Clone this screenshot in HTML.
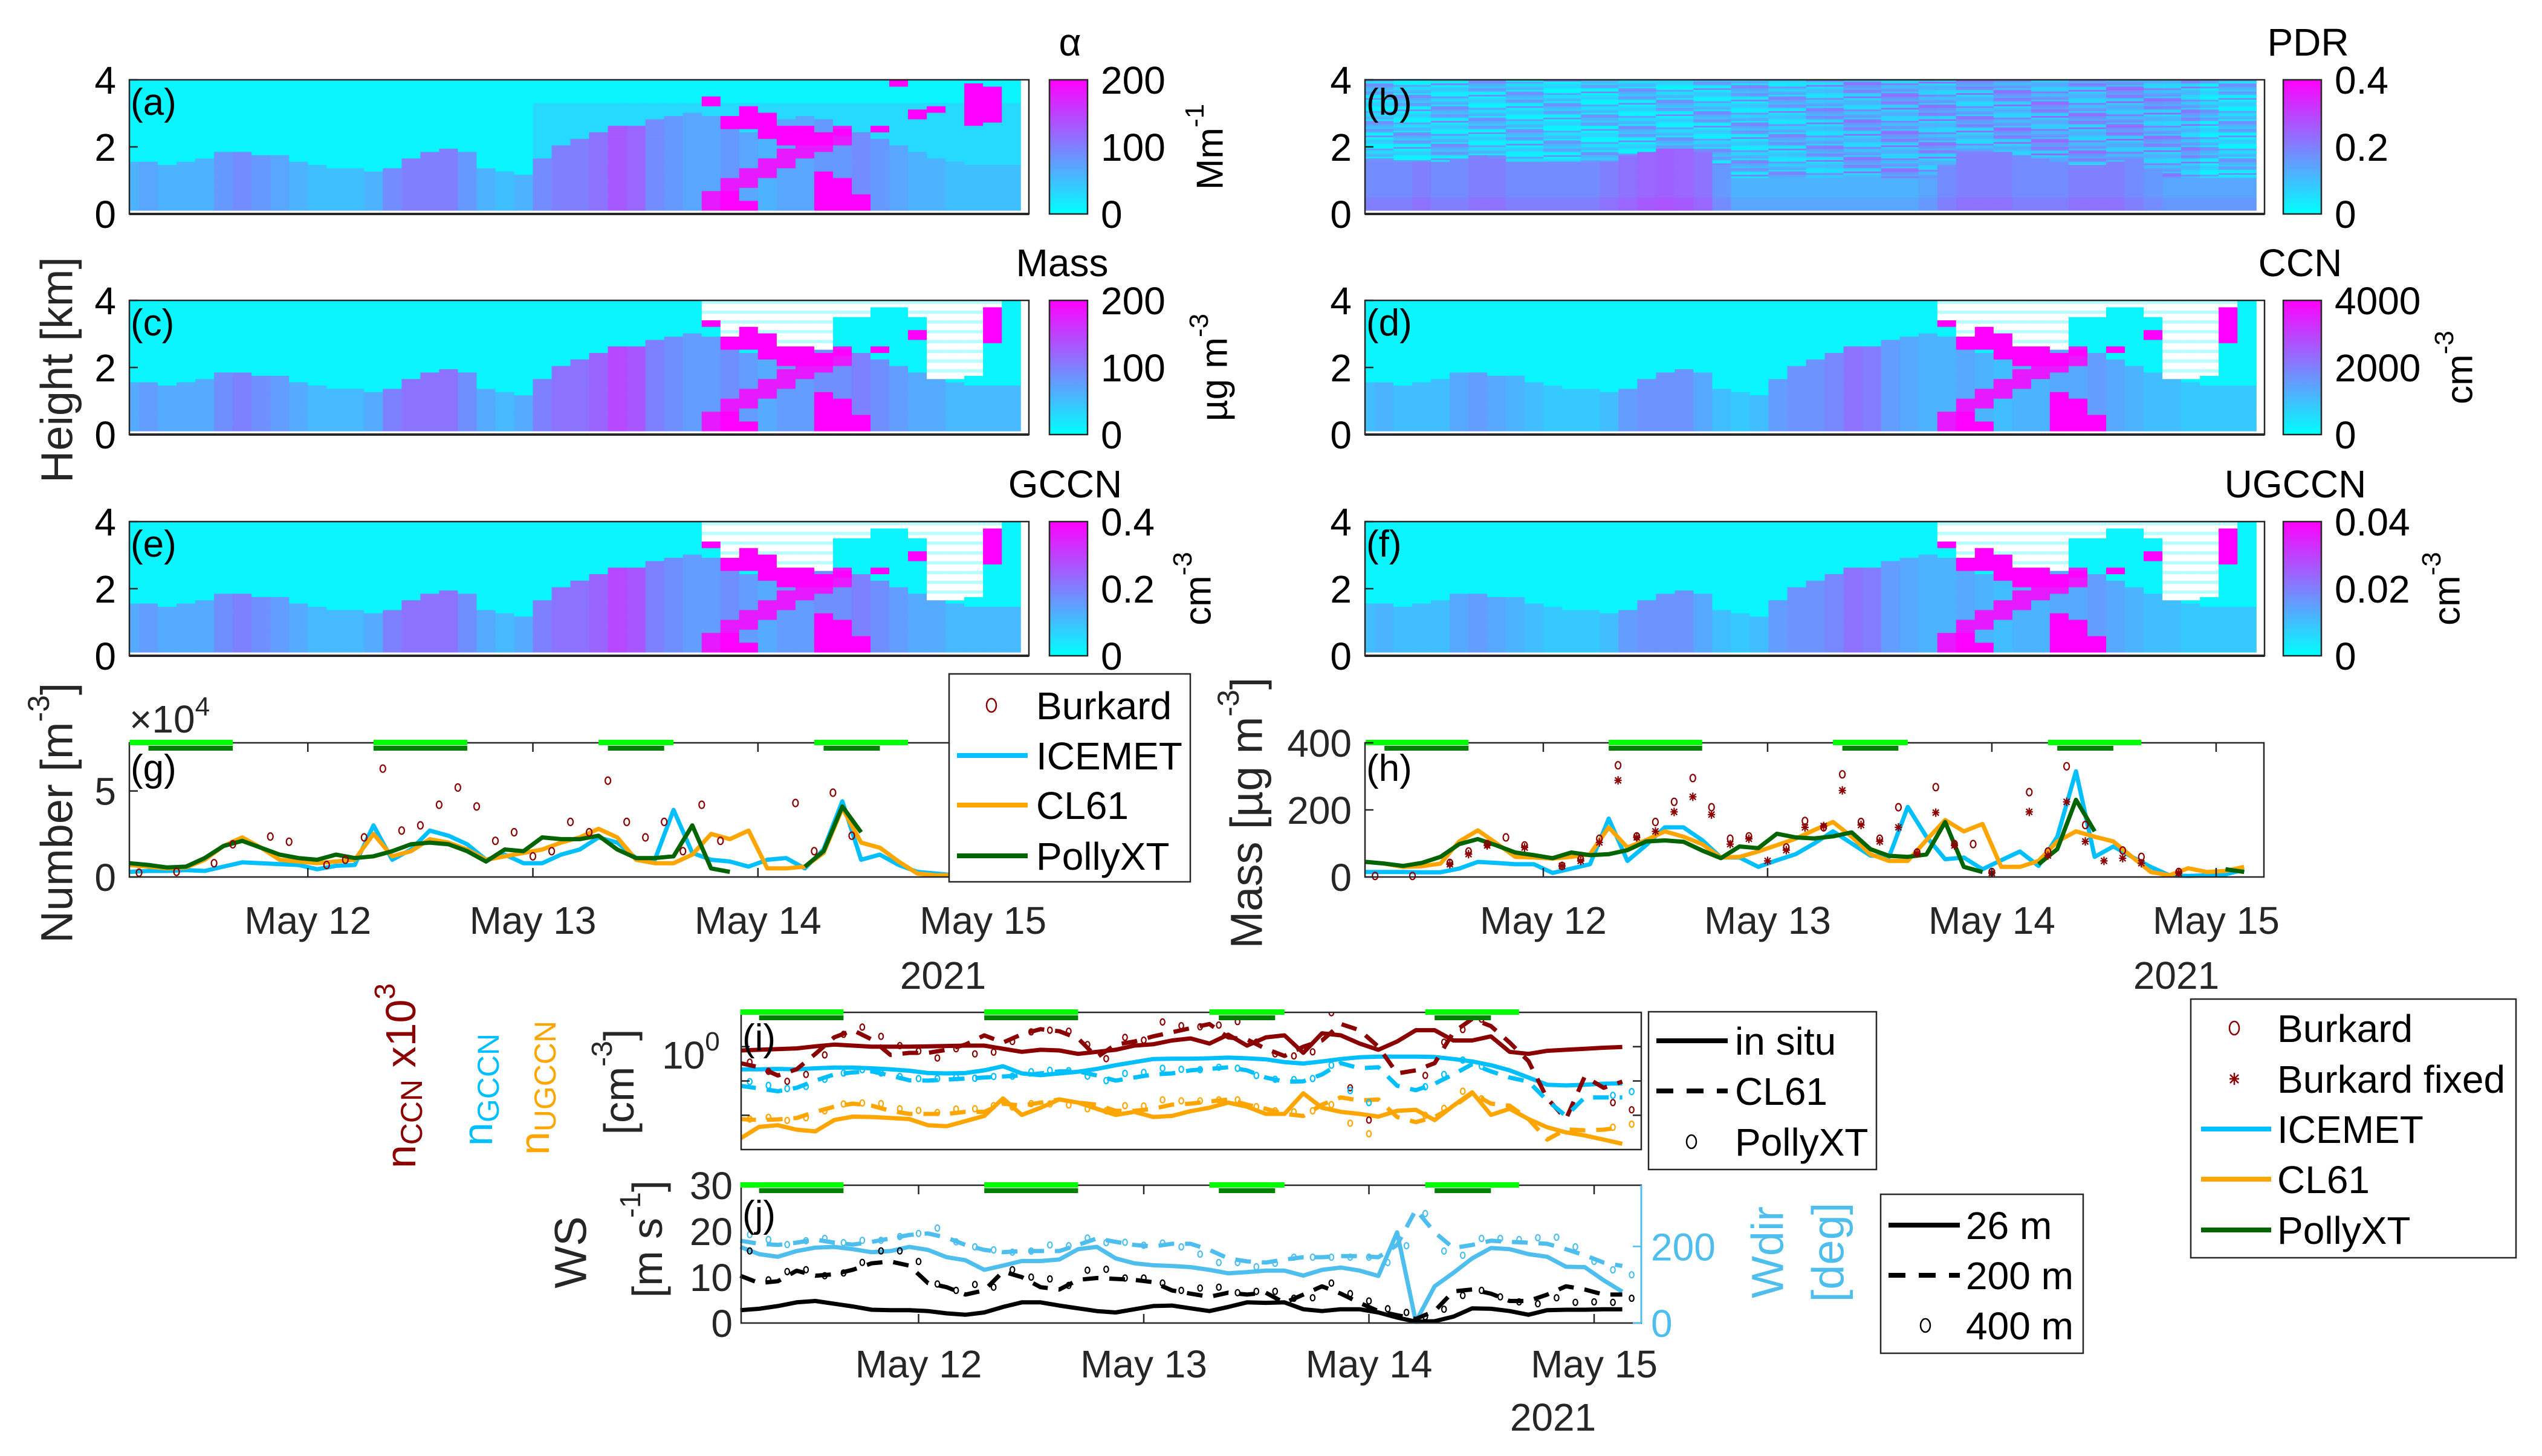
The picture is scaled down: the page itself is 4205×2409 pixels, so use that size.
<!DOCTYPE html>
<html><head><meta charset="utf-8"><title>Aerosol time series</title>
<style>
html,body{margin:0;padding:0;background:#fff;}
svg{display:block;font-family:"Liberation Sans",Arial,sans-serif;}
</style></head>
<body>
<svg id="chart" width="4205" height="2409" viewBox="0 0 4205 2409" xmlns="http://www.w3.org/2000/svg">
<rect x="0" y="0" width="4205" height="2409" fill="#fff"/>
</svg>
<script>
// ---------- shared time data (hours since 11 May 00:00) ----------
const sampleHours = [5,7,9,11,13,15,17,19,21,23,25,27,29,31,33,35,37,39,41,43,45,47,49,51,53,55,57,59,61,63,65,67,69,71,73,75,77,79,81,83,85,87,89,91,93,95,97,99];
const dayTicks = [24,48,72,96];
const dayLabels = ['May 12','May 13','May 14','May 15'];
const lightStart = [5,31,55,78];
const lightEnd = [16,41,63,88];
const darkStart = [7,31,56,79];
const darkEnd = [16,41,62,85];

// ---------- (g) number concentration x10^4 ----------
const icemetN = [.3,.35,.35,.4,.35,.6,.85,.8,.75,.7,.45,.65,.7,3.0,1.0,1.6,2.7,2.4,1.9,1.0,1.3,.8,.8,1.3,1.6,2.3,2.0,1.1,1.0,3.9,1.4,1.0,.9,.6,1.0,1.1,.5,1.6,4.4,1.0,1.3,.7,.3,.2,.1,.1,.1,.1];
const cl61N = [.7,.6,.5,.55,1.0,1.8,2.3,1.7,1.0,.9,.8,.9,1.0,2.5,1.2,1.5,2.2,2.0,1.6,1.0,1.2,1.4,1.6,2.0,2.3,2.8,2.3,1.0,.8,.8,1.3,2.5,2.2,2.7,.5,.5,.6,1.4,4.0,2.0,1.7,.9,.2,.1,.1,.1,.1,.1];
const pollyN = [.8,.7,.55,.6,1.1,1.8,2.1,1.7,1.3,1.1,1.0,1.3,1.1,1.2,1.5,1.9,2.0,1.9,1.5,.9,1.6,1.5,2.3,2.2,2.2,2.4,1.6,1.1,1.1,1.2,3.0,.5,.3,null,null,null,.6,1.5,4.1,2.6,null,null,null,null,null,null,null,null];
const burkHoursN = [6,10,14,16,20,22,26,28,30,32,34,36,38,40,42,44,46,48,50,52,54,56,58,60,62,64,66,68,76,78,80,82];
const burkN = [.25,.3,.8,1.9,2.35,2.05,.7,1.0,2.3,6.3,2.7,3.0,4.2,5.2,4.1,2.1,2.6,1.2,1.5,3.2,2.6,5.6,3.2,2.3,3.2,1.5,4.2,2.1,4.3,1.5,4.9,2.4];

// ---------- (h) mass ----------
const icemetM = [15,15,15,14,14,25,45,42,38,38,12,25,38,174,48,95,148,148,110,58,58,30,50,68,100,136,100,64,60,209,120,53,58,23,50,76,33,120,315,60,91,60,30,5,3,5,8,22];
const cl61M = [45,40,30,32,40,106,139,100,60,58,55,60,68,148,88,110,136,120,98,58,60,76,95,114,140,164,120,68,48,48,110,170,136,158,30,30,48,106,136,120,106,60,15,5,26,15,18,30];
const pollyM = [45,40,33,42,60,98,113,94,73,65,56,73,65,68,80,106,109,105,79,56,91,86,129,118,115,121,133,83,63,60,67,164,30,15,null,null,38,83,230,136,null,null,null,null,null,null,23,15];
const burkHoursM = [6,10,14,16,18,20,22,26,28,30,32,34,36,38,40,42,44,46,50,52,54,56,58,60,62,64,66,68,70,72,76,78,80,82,86,88,92];
const burkM = [3,3,42,76,98,118,94,33,53,114,333,121,164,224,295,208,114,121,88,167,148,306,164,114,208,73,268,98,98,15,253,76,330,155,79,60,15];
const burkFixHoursM = [14,16,18,22,26,28,30,32,34,36,38,40,42,44,46,48,50,52,54,56,58,60,62,64,66,68,72,76,78,80,82,84,86,88,92];
const burkFixM = [38,68,94,88,33,48,103,288,118,136,194,239,186,98,114,48,80,148,152,258,155,106,148,70,192,94,12,194,64,224,106,48,56,41,12];

// ---------- (i) log10 concentrations ----------
const ccnInsituLog = [-0.11,-0.09,-0.07,-0.05,0.01,0.06,0.03,0,0,0,0.01,0.02,0.03,0.03,-0.06,-0.15,-0.09,-0.11,-0.21,-0.15,-0.09,0.03,0.07,0.18,0.24,0.09,0.35,0.03,0.27,0.33,-0.18,0.39,0.33,0.09,-0.09,0.15,0.48,0.48,0.18,0.18,0.3,-0.15,-0.21,-0.12,-0.09,-0.06,-0.03,-0.01];
const gccnInsituLog = [-0.66,-0.66,-0.65,-0.66,-0.63,-0.61,-0.61,-0.63,-0.66,-0.70,-0.77,-0.78,-0.77,-0.69,-0.57,-0.78,-0.83,-0.78,-0.73,-0.65,-0.54,-0.45,-0.36,-0.35,-0.35,-0.34,-0.32,-0.34,-0.37,-0.45,-0.49,-0.43,-0.36,-0.31,-0.29,-0.29,-0.29,-0.30,-0.36,-0.43,-0.54,-0.69,-0.90,-1.11,-1.13,-1.11,-1.08,-1.07];
const ugccnInsituLog = [-2.68,-2.34,-2.29,-2.42,-2.47,-2.14,-2.04,-2.05,-2.08,-2.11,-2.29,-2.32,-2.17,-2.02,-1.51,-1.99,-1.78,-1.54,-1.63,-1.81,-1.99,-1.90,-2.05,-2.02,-1.88,-1.78,-1.63,-1.75,-1.96,-1.96,-1.36,-1.78,-1.90,-1.96,-2.04,-1.87,-1.84,-2.14,-1.72,-1.33,-1.99,-1.81,-2.11,-2.35,-2.50,-2.59,-2.71,-2.83];
const ccnCl61Log = [-0.48,-0.60,-0.84,-0.66,-0.21,0.27,0.48,0.21,-0.24,-0.18,-0.18,-0.09,0.06,0.33,0.12,0.36,0.51,0.45,0.24,-0.31,0.06,0.15,0.30,0.42,0.54,0.66,0.27,0.21,-0.06,-0.27,0,0.18,0.66,0.48,0,-0.78,-0.69,-0.48,0.42,0.81,0.60,0.12,-0.42,-1.51,-2.11,-0.87,-1.20,-1.02];
const gccnCl61Log = [-1.14,-1.22,-1.30,-1.20,-0.99,-0.81,-0.75,-0.72,-0.84,-0.98,-0.99,-0.96,-0.93,-0.90,-0.87,-0.84,-0.78,-0.72,-0.72,-0.84,-0.99,-0.90,-0.81,-0.78,-0.69,-0.65,-0.60,-0.69,-0.90,-1.02,-1.01,-0.81,-0.48,-0.63,-0.60,-1.14,-1.27,-1.08,-0.81,-0.51,-0.72,-0.90,-1.02,-1.57,-2.02,-1.48,-1.48,-1.48];
const ugccnCl61Log = [-2.11,-2.14,-2.12,-2.08,-1.90,-1.75,-1.66,-1.72,-1.87,-1.96,-1.96,-1.96,-1.90,-1.90,-1.66,-1.72,-1.63,-1.54,-1.63,-1.69,-1.87,-1.87,-1.81,-1.69,-1.66,-1.60,-1.54,-1.69,-1.81,-1.96,-2.02,-1.69,-1.48,-1.57,-1.54,-2.05,-2.20,-2.05,-1.75,-1.36,-1.66,-1.72,-2.11,-2.71,-2.41,-2.44,-2.42,-2.35];
const pollyHoursI = [6,8,10,12,14,16,18,20,22,24,26,28,30,32,34,36,38,40,42,44,46,48,50,52,54,56,58,60,62,64,66,68,70,72,78,80,82,84,98,100];
const ccnPollyLog = [-0.45,-0.72,-1.01,-0.81,-0.24,0.36,0.57,0.30,0.03,-0.13,-0.33,-0.06,-0.21,-0.16,0.15,0.43,0.48,0.45,0.06,-0.35,0.27,0.19,0.72,0.61,0.58,0.63,0.73,0.13,-0.21,-0.27,-0.15,0.99,-1.20,-2.14,-0.84,0.13,0.5,0.80,-1.63,-1.84];
const gccnPollyLog = [-1.02,-1.13,-1.22,-1.16,-0.95,-0.77,-0.67,-0.77,-0.87,-0.93,-0.93,-0.89,-0.92,-0.87,-0.86,-0.73,-0.69,-0.70,-0.86,-0.99,-0.78,-0.75,-0.63,-0.66,-0.67,-0.60,-0.63,-0.84,-0.95,-0.96,-0.93,-0.54,-1.28,-1.63,-1.17,-0.81,-0.39,-0.57,-1.42,-1.31];
const ugccnPollyLog = [-2.11,-2.06,-2.15,-2.07,-1.87,-1.67,-1.64,-1.66,-1.81,-1.86,-1.92,-1.82,-1.81,-1.72,-1.76,-1.66,-1.67,-1.70,-1.81,-1.87,-1.72,-1.73,-1.55,-1.58,-1.58,-1.55,-1.55,-1.75,-1.87,-1.90,-1.87,-1.69,-2.23,-2.54,-2.0,-1.8,-1.30,-1.52,-2.35,-2.26];

// ---------- (j) wind ----------
const ws26 = [2.8,3.1,3.7,4.5,4.8,4.2,3.6,2.9,2.8,2.8,2.6,2.1,1.8,2.3,3.5,4.5,4.5,3.8,3.2,2.6,2.3,3.0,3.7,3.8,3.2,2.6,3.5,4.5,4.4,4.5,3.0,2.6,3.0,3.0,2.3,1.2,0.3,0.4,1.4,3.2,3.1,2.6,1.8,2.8,2.9,2.9,3.0,3.0];
const ws200 = [10.3,8.7,9.1,11.4,10.3,10.6,11.6,13.0,13.4,12.5,8.7,7.8,6.2,7.1,11.2,10.0,7.8,7.3,9.4,9.8,9.6,9.4,8.9,7.1,6.4,5.7,6.6,6.2,6.6,4.4,6.2,8.0,6.4,4.4,2.6,1.7,0.9,2.6,6.9,7.3,6.4,4.8,4.8,6.2,8.0,7.3,6.2,6.2];
const obsHours400 = [6,8,10,12,14,16,18,20,22,24,26,28,30,32,34,36,38,40,42,44,46,48,50,52,54,56,58,60,62,64,66,68,70,72,74,76,78,80,82,84,86,88,90,92,94,96,98,100];
const ws400 = [15.7,9.4,11.2,11.6,10.3,10.9,13.2,15.7,15.7,13.4,8.5,7.1,8.4,7.8,11.6,10.0,9.6,8.2,11.5,11.7,9.8,9.8,8.7,7.1,7.6,7.8,6.6,6.9,6.9,5.4,5.5,8.7,6.4,4.8,3.1,2.3,1.4,3.0,6.0,7.1,5.7,4.6,4.2,5.5,4.5,4.6,4.5,5.4];
const wdir26 = [199,180,173,188,197,199,193,185,188,199,191,172,164,139,150,162,162,166,193,199,169,156,151,149,146,139,130,133,137,137,124,139,145,137,123,237,4,96,131,169,196,193,180,173,147,146,112,82];
const wdir200 = [215,207,204,210,218,210,205,212,221,230,234,223,204,191,185,188,188,188,204,221,212,204,200,207,207,191,169,161,158,166,172,172,175,175,172,204,296,237,196,204,215,212,210,207,193,177,158,149];
const wdir400 = [231,218,205,215,221,210,216,216,226,234,248,212,199,191,185,188,204,202,222,210,211,203,209,199,180,158,158,147,156,172,172,172,172,172,158,202,286,188,177,221,221,218,223,224,199,161,139,126];

// ---------- heatmap structure (per 2-h column, km / colour fraction) ----------
const blTop = [1.5,1.5,1.4,1.5,1.6,1.8,1.8,1.7,1.7,1.5,1.4,1.3,1.3,1.2,1.3,1.6,1.8,1.9,1.8,1.3,1.2,1.1,1.6,2.0,2.2,2.4,2.6,2.6,2.8,2.9,3.0,2.9,2.6,2.4,2.6,2.8,2.9,2.8,2.6,2.4,2.2,2.0,1.8,1.6,1.5,1.4,1.4,1.4];
const blVal = [.3,.35,.3,.3,.3,.4,.45,.4,.35,.3,.25,.25,.25,.3,.45,.5,.5,.5,.4,.3,.25,.3,.45,.5,.5,.55,.65,.6,.45,.4,.35,.35,.4,.35,.3,.35,.35,.4,.4,.45,.4,.35,.3,.3,.25,.25,.25,.25];
const diagH = [null,null,null,null,null,null,null,null,null,null,null,null,null,null,null,null,null,null,null,null,null,null,null,null,null,null,null,null,null,null,null,0.3,0.7,1.0,1.3,1.6,1.9,2.1,2.3,null,null,null,null,null,null,null,null,null];
const surfPink = [null,null,null,null,null,null,null,null,null,null,null,null,null,null,null,null,null,null,null,null,null,null,null,null,null,null,null,null,null,null,null,null,0.6,0.3,null,null,null,1.2,1.0,0.5,null,null,null,null,null,null,null,null];
const upperLo = [null,null,null,null,null,null,null,null,null,null,null,null,null,null,null,null,null,null,null,null,null,null,null,null,null,null,null,null,null,null,null,3.2,2.5,2.5,2.2,2.0,2.0,2.0,2.3,null,2.4,3.8,2.8,3.0,null,2.6,2.7,null];
const upperHi = [null,null,null,null,null,null,null,null,null,null,null,null,null,null,null,null,null,null,null,null,null,null,null,null,null,null,null,null,null,null,null,3.5,2.9,3.2,3.0,2.6,2.6,2.4,2.5,null,2.6,4.0,3.1,3.2,null,3.9,3.8,null];
const nanLo = [null,null,null,null,null,null,null,null,null,null,null,null,null,null,null,null,null,null,null,null,null,null,null,null,null,null,null,null,null,null,null,3.4,2.9,3.2,3.0,2.6,2.6,2.5,3.5,3.5,3.8,3.8,3.5,1.6,1.6,1.7,3.8,null];
const pdrTop = [1.5,1.5,1.5,1.5,1.5,1.6,1.7,1.6,1.5,1.5,1.5,1.5,1.5,1.5,1.7,1.8,1.9,1.9,1.8,1.4,1.0,1.0,1.0,1.0,1.0,1.0,1.0,1.0,1.0,1.0,1.0,1.4,1.8,1.8,1.8,1.7,1.6,1.5,1.4,1.4,1.5,1.6,1.2,1.0,1.0,1.0,1.0,1.0];
const pdrVal = [.45,.45,.45,.5,.45,.45,.5,.5,.45,.45,.45,.45,.45,.5,.55,.6,.62,.6,.55,.4,.3,.3,.3,.3,.3,.3,.3,.3,.3,.3,.35,.45,.5,.5,.5,.45,.45,.45,.5,.5,.5,.45,.4,.35,.35,.35,.35,.35];
const pdrUpper = [.2,.2,.2,.2,.22,.22,.2,.2,.2,.2,.18,.18,.18,.18,.2,.2,.2,.2,.22,.22,.22,.24,.24,.25,.26,.28,.3,.3,.32,.32,.32,.3,.3,.3,.32,.32,.34,.34,.32,.32,.34,.34,.32,.3,.3,.2,.2,.2];
const rowNoise = [-0.15,0.1,-0.05,0.25,-0.12,0.02,0.18,-0.1,0.05,-0.15,0.22,-0.02,0.08,-0.14,0.15,-0.06,0.28,-0.1,0.0,0.12,-0.15,0.2,-0.04];

// ---------- helpers ----------
const svg = document.getElementById('chart');
const NS = svg.namespaceURI;
function mk(tag, attrs, parent){
  const e = document.createElementNS(NS, tag);
  for (const k in attrs) e.setAttribute(k, attrs[k]);
  (parent || svg).appendChild(e);
  return e;
}
const FONT = '"Liberation Sans", Arial, sans-serif';
function txt(x, y, s, size, anchor, color, parent){
  const t = mk('text', {x:x, y:y, 'font-size':size, 'text-anchor':anchor||'start', fill:color||'#000', 'font-family':FONT}, parent);
  t.textContent = s;
  return t;
}
function sup(t, s, size, dy){
  const a = mk('tspan', {dy:-(dy||26), 'font-size':size||44}, t);
  a.textContent = s;
  return a;
}
function cmap(v){
  v = Math.max(0, Math.min(1, v));
  return 'rgb(' + Math.round(255*v) + ',' + Math.round(255*(1-v)) + ',255)';
}
function tx(x0, h){ return x0 + (h/24 - 0.207) * 372.3; }

// ---------- heatmaps ----------
const heatPanels = [
  {kind:'alpha', x:214, y:132, lab:'(a)', title:'α', tx:1770, cbx:1736, ticks:['200','100','0'], unitX:2002, unit:['Mm','-1']},
  {kind:'pdr', x:2258, y:132, lab:'(b)', title:'PDR', tx:3818, cbx:3777, ticks:['0.4','0.2','0'], unitX:null},
  {kind:'mass', x:214, y:497, lab:'(c)', title:'Mass', tx:1757, cbx:1736, ticks:['200','100','0'], unitX:2009, unit:['µg m','-3']},
  {kind:'ccn', x:2258, y:497, lab:'(d)', title:'CCN', tx:3805, cbx:3777, ticks:['4000','2000','0'], unitX:4069, unit:['cm','-3']},
  {kind:'gccn', x:214, y:863, lab:'(e)', title:'GCCN', tx:1762, cbx:1736, ticks:['0.4','0.2','0'], unitX:1982, unit:['cm','-3']},
  {kind:'ugccn', x:2258, y:863, lab:'(f)', title:'UGCCN', tx:3797, cbx:3777, ticks:['0.04','0.02','0'], unitX:4048, unit:['cm','-3']}
];
const HW = 1488, HH = 222;
function cellColor(kind, k, z, r){
  if (kind === 'pdr'){
    if (z < pdrTop[k]) return cmap(pdrVal[k] + (z < 0.4 ? 0.05 : 0));
    return cmap(pdrUpper[k] + rowNoise[(r*7 + Math.floor(k/2)*3) % rowNoise.length]);
  }
  if (kind !== 'alpha' && nanLo[k] !== null && z > nanLo[k]) return (r % 3 === 0) ? '#b8ffff' : '#ffffff';
  const scale = kind === 'alpha' ? 1 : ((kind === 'mass' || kind === 'gccn') ? 1.1 : 0.85);
  let v;
  if (z < blTop[k]) v = blVal[k] * scale;
  else v = (kind === 'alpha' && k >= 22 && z < 3.3) ? 0.15 : 0.04;
  if (diagH[k] !== null && Math.abs(z - diagH[k]) < 0.3) v = 0.9;
  if (surfPink[k] !== null && z < surfPink[k]) v = 1;
  if (upperLo[k] !== null && z >= upperLo[k] && z <= upperHi[k]) v = 1;
  return cmap(v);
}
heatPanels.forEach(function(p){
  const g = mk('g', {});
  
  
  const dataH = HH - 6;
  const NR = p.kind === 'pdr' ? 80 : 40;
  for (let k = 0; k < sampleHours.length; k++){
    let x1 = tx(p.x, sampleHours[k] - 1), x2 = tx(p.x, sampleHours[k] + 1);
    x1 = Math.max(p.x, x1); x2 = Math.min(p.x + HW, x2);
    if (x2 <= x1) continue;
    for (let r = 0; r < NR; r++){
      const z = (r + 0.5) * 4 / NR;
      const yTop = p.y + (NR - r - 1) * dataH / NR;
      const c = mk('rect', {x:x1.toFixed(1), y:yTop.toFixed(1), width:(x2 - x1 + 0.6).toFixed(1), height:(dataH/NR + 0.6).toFixed(2), fill:cellColor(p.kind, k, z, r)}, g);
      
      
    }
  }
  const fr = mk('rect', {x:p.x, y:p.y, width:HW, height:HH, fill:'none', stroke:'#262626', 'stroke-width':2.5});
  
  
  const bl = mk('line', {x1:p.x, y1:p.y + HH, x2:p.x + HW, y2:p.y + HH, stroke:'#262626', 'stroke-width':4});
  
  
  ['4','2','0'].forEach(function(s, i){
    const yy = p.y + i * HH / 2;
    const t = txt(p.x - 22, yy + 23, s, 64, 'end');
    
    
    const tk = mk('line', {x1:p.x, y1:yy, x2:p.x + 14, y2:yy, stroke:'#262626', 'stroke-width':2.5});
    
    
  });
  const pl = txt(p.x + 2, p.y + 58, p.lab, 62, 'start');
  
  
  const ti = txt(p.tx, p.y - 40, p.title, 64, 'middle');
  
  
  const gid = 'cb' + p.kind;
  const defs = mk('defs', {});
  const lg = mk('linearGradient', {id:gid, x1:0, y1:1, x2:0, y2:0}, defs);
  mk('stop', {offset:0, 'stop-color':'#00ffff'}, lg);
  mk('stop', {offset:1, 'stop-color':'#ff00ff'}, lg);
  const cb = mk('rect', {x:p.cbx, y:p.y, width:63, height:HH, fill:'url(#' + gid + ')', stroke:'#262626', 'stroke-width':2.5});
  
  
  p.ticks.forEach(function(s, i){
    const t = txt(p.cbx + 85, p.y + i * HH / 2 + 23, s, 64, 'start');
    
    
  });
  if (p.unitX !== null){
    const cy = p.y + HH / 2;
    const u = mk('text', {x:p.unitX, y:cy, 'font-size':62, 'text-anchor':'middle', 'font-family':FONT, transform:'rotate(-90 ' + p.unitX + ' ' + cy + ')', 'dominant-baseline':'central'});
    u.textContent = p.unit[0];
    sup(u, p.unit[1], 44, 26);
    
    
  }
});

// ---------- generic helpers for line panels ----------
function drawPath(xf, yf, hours, vals, color, width, dash, parent){
  let d = '', pen = false;
  for (let i = 0; i < vals.length; i++){
    if (vals[i] === null){ pen = false; continue; }
    d += (pen ? 'L' : 'M') + xf(hours[i]).toFixed(1) + ' ' + yf(vals[i]).toFixed(1);
    pen = true;
  }
  const a = {d:d, fill:'none', stroke:color, 'stroke-width':width, 'stroke-linejoin':'round'};
  if (dash) a['stroke-dasharray'] = dash;
  return mk('path', a, parent);
}
function greenBars(xf, top, parent){
  for (let i = 0; i < lightStart.length; i++){
    const a = mk('rect', {x:xf(lightStart[i]), y:top - 5, width:xf(lightEnd[i]) - xf(lightStart[i]), height:9, fill:'#00ff00'}, parent);
    
    
    const b = mk('rect', {x:xf(darkStart[i]), y:top + 5, width:xf(darkEnd[i]) - xf(darkStart[i]), height:8, fill:'#008000'}, parent);
    
    
  }
}
function frame(x, y, w, h, parent){
  const f = mk('rect', {x:x, y:y, width:w, height:h, fill:'none', stroke:'#262626', 'stroke-width':2.5}, parent);
  
  
}
function xTicks(xf, top, bottom, labels, labY, parent){
  dayTicks.forEach(function(h, i){
    const x = xf(h);
    const t1 = mk('line', {x1:x, y1:bottom, x2:x, y2:bottom - 15, stroke:'#262626', 'stroke-width':2.5}, parent);
    
    
    const t2 = mk('line', {x1:x, y1:top, x2:x, y2:top + 15, stroke:'#262626', 'stroke-width':2.5}, parent);
    
    
    if (labels){
      const l = txt(x, labY, dayLabels[i], 64, 'middle', '#262626', parent);
      
      
    }
  });
}
function circles(xf, yf, hours, vals, color, r, parent, name){
  for (let i = 0; i < vals.length; i++){
    if (vals[i] === null) continue;
    const c = mk('ellipse', {cx:xf(hours[i]).toFixed(1), cy:yf(vals[i]).toFixed(1), rx:r * 0.75, ry:r, fill:'none', stroke:color, 'stroke-width':2.2}, parent);
    
    
  }
}
function stars(xf, yf, hours, vals, color, parent){
  for (let i = 0; i < vals.length; i++){
    const x = xf(hours[i]), y = yf(vals[i]);
    const s = mk('path', {d:'M' + (x-6) + ' ' + y + 'L' + (x+6) + ' ' + y + 'M' + x + ' ' + (y-7) + 'L' + x + ' ' + (y+7) + 'M' + (x-5) + ' ' + (y-5) + 'L' + (x+5) + ' ' + (y+5) + 'M' + (x-5) + ' ' + (y+5) + 'L' + (x+5) + ' ' + (y-5), stroke:color, 'stroke-width':2.2, fill:'none'}, parent);
    
    
  }
}
function rotText(x, y, size, color, parent){
  return mk('text', {x:x, y:y, 'font-size':size, 'text-anchor':'middle', fill:color, 'font-family':FONT, transform:'rotate(-90 ' + x + ' ' + y + ')', 'dominant-baseline':'central'}, parent);
}
const ICE = '#00bfff', CL = '#ffa500', POL = '#006400', BURK = '#8b0000', WD = '#4dbeee';

// ---------- (g) ----------
const gX = 214, gY = 1229, gW = 1486, gH = 222, gMax = 7.8;
const xg = function(h){ return tx(gX, h); };
const yg = function(v){ return gY + gH - v / gMax * gH; };
const gG = mk('g', {});


drawPath(xg, yg, sampleHours, icemetN, ICE, 7, null, gG);
drawPath(xg, yg, sampleHours, cl61N, CL, 7, null, gG);
drawPath(xg, yg, sampleHours, pollyN, POL, 7, null, gG);
circles(xg, yg, burkHoursN, burkN, BURK, 6, gG, 'burkard-number-point');
frame(gX, gY, gW, gH, gG);
greenBars(xg, gY, gG);
xTicks(xg, gY, gY + gH, true, 1545, gG);
[['0',0],['5',5]].forEach(function(t){
  const l = txt(gX - 22, yg(t[1]) + 23, t[0], 64, 'end', '#262626', gG);
  
  
  const k = mk('line', {x1:gX, y1:yg(t[1]), x2:gX + 14, y2:yg(t[1]), stroke:'#262626', 'stroke-width':2.5}, gG);
  
  
});
const gl = txt(gX + 2, 1292, '(g)', 62, 'start', '#000', gG);


const gExp = txt(gX, 1212, '×10', 64, 'start', '#262626', gG);
sup(gExp, '4', 44, 28);


const g2021 = txt(1560, 1636, '2021', 64, 'middle', '#262626', gG);



// ---------- (h) ----------
const hX = 2258, hY = 1229, hW = 1487, hH = 222, hMax = 400;
const xh = function(h){ return hX + (h/24 - 0.205) * 371; };
const yh = function(v){ return hY + hH - v / hMax * hH; };
const hG = mk('g', {});


drawPath(xh, yh, sampleHours, icemetM, ICE, 7, null, hG);
drawPath(xh, yh, sampleHours, cl61M, CL, 7, null, hG);
drawPath(xh, yh, sampleHours, pollyM, POL, 7, null, hG);
circles(xh, yh, burkHoursM, burkM, BURK, 6, hG, 'burkard-mass-point');
stars(xh, yh, burkFixHoursM, burkFixM, BURK, hG);
frame(hX, hY, hW, hH, hG);
greenBars(xh, hY, hG);
xTicks(xh, hY, hY + hH, true, 1545, hG);
[['0',0],['200',200],['400',400]].forEach(function(t){
  const l = txt(hX - 22, yh(t[1]) + 23, t[0], 64, 'end', '#262626', hG);
  
  
  const k = mk('line', {x1:hX, y1:yh(t[1]), x2:hX + 14, y2:yh(t[1]), stroke:'#262626', 'stroke-width':2.5}, hG);
  
  
});
const hl = txt(hX + 2, 1292, '(h)', 62, 'start', '#000', hG);


const h2021 = txt(3600, 1636, '2021', 64, 'middle', '#262626', hG);



// ---------- (i) ----------
const iX = 1226, iY = 1675, iW = 1489, iH = 227;
const xi = function(h){ return iX + (h/24 - 0.212) * 372.5; };
const yi = function(lg){ return iY + (1 - lg) * iH / 4; };
const iG = mk('g', {});


const iClip = mk('clipPath', {id:'iclip'}, mk('defs', {}, iG));
mk('rect', {x:iX, y:iY, width:iW, height:iH}, iClip);
const iLines = mk('g', {'clip-path':'url(#iclip)'}, iG);


drawPath(xi, yi, sampleHours, ccnInsituLog, BURK, 7, null, iLines);
drawPath(xi, yi, sampleHours, gccnInsituLog, ICE, 7, null, iLines);
drawPath(xi, yi, sampleHours, ugccnInsituLog, CL, 7, null, iLines);
drawPath(xi, yi, sampleHours, ccnCl61Log, BURK, 7, '26 18', iLines);
drawPath(xi, yi, sampleHours, gccnCl61Log, ICE, 7, '26 18', iLines);
drawPath(xi, yi, sampleHours, ugccnCl61Log, CL, 7, '26 18', iLines);
circles(xi, yi, pollyHoursI, ccnPollyLog, BURK, 5, iLines, 'ccn-pollyxt-point');
circles(xi, yi, pollyHoursI, gccnPollyLog, ICE, 5, iLines, 'gccn-pollyxt-point');
circles(xi, yi, pollyHoursI, ugccnPollyLog, CL, 5, iLines, 'ugccn-pollyxt-point');
frame(iX, iY, iW, iH, iG);
greenBars(xi, iY, iG);
[-2,-1,0].forEach(function(lg){
  const k1 = mk('line', {x1:iX, y1:yi(lg), x2:iX + 14, y2:yi(lg), stroke:'#262626', 'stroke-width':2.5}, iG);
  
  
  const k2 = mk('line', {x1:iX + iW, y1:yi(lg), x2:iX + iW - 14, y2:yi(lg), stroke:'#262626', 'stroke-width':2.5}, iG);
  
  
});
const i10 = txt(1095, 1768, '10', 64, 'start', '#262626', iG);
sup(i10, '0', 44, 30);


const il = txt(iX + 2, 1738, '(i)', 62, 'start', '#000', iG);



// ---------- (j) ----------
const jX = 1226, jY = 1961, jW = 1489, jH = 228;
const xj = xi;
const yj = function(v){ return jY + jH - v / 30 * jH; };
const yw = function(v){ return jY + jH - v / 360 * jH; };
const jG = mk('g', {});


drawPath(xj, yw, sampleHours, wdir26, WD, 7, null, jG);
drawPath(xj, yw, sampleHours, wdir200, WD, 7, '26 18', jG);
circles(xj, yw, obsHours400, wdir400, WD, 5, jG, 'wdir-400m-point');
drawPath(xj, yj, sampleHours, ws26, '#000', 7, null, jG);
drawPath(xj, yj, sampleHours, ws200, '#000', 7, '26 18', jG);
circles(xj, yj, obsHours400, ws400, '#000', 5, jG, 'ws-400m-point');
frame(jX, jY, jW, jH, jG);
const jr = mk('line', {x1:jX + jW, y1:jY, x2:jX + jW, y2:jY + jH, stroke:WD, 'stroke-width':3}, jG);


greenBars(xj, jY, jG);
xTicks(xj, jY, jY + jH, true, 2279, jG);
[0,10,20,30].forEach(function(v){
  const l = txt(jX - 14, yj(v) + 23, String(v), 64, 'end', '#262626', jG);
  
  
});
[0,200].forEach(function(v){
  const l = txt(jX + jW + 16, yw(v) + 23, String(v), 64, 'start', WD, jG);
  
  
  const k = mk('line', {x1:jX + jW, y1:yw(v), x2:jX + jW - 14, y2:yw(v), stroke:WD, 'stroke-width':2.5}, jG);
  
  
});
const jl = txt(jX + 2, 2030, '(j)', 62, 'start', '#000', jG);


const j2021 = txt(2569, 2367, '2021', 64, 'middle', '#262626', jG);



// ---------- axis titles ----------
const hk = rotText(94, 612, 74, '#262626');
hk.textContent = 'Height [km]';


const nm = rotText(94, 1345, 74, '#262626');
nm.textContent = 'Number [m';
sup(nm, '-3', 50, 30);
const nm2 = mk('tspan', {dy:30}, nm); nm2.textContent = ']';


const ms = rotText(2062, 1345, 74, '#262626');
ms.textContent = 'Mass [µg m';
sup(ms, '-3', 50, 30);
const ms2 = mk('tspan', {dy:30}, ms); ms2.textContent = ']';


function subLabel(x, y, base, sub, extra, color, name){
  const t = rotText(x, y, 70, color);
  t.textContent = base;
  const s = mk('tspan', {dy:18, 'font-size':50}, t); s.textContent = sub;
  if (extra){ const e = mk('tspan', {dy:-18}, t); e.textContent = extra[0]; const e2 = mk('tspan', {dy:-26, 'font-size':48}, t); e2.textContent = extra[1]; }
  
  
}
subLabel(663, 1780, 'n', 'CCN', [' x10', '3'], BURK, 'y-axis-title-nccn');
subLabel(790, 1803, 'n', 'GCCN', null, ICE, 'y-axis-title-ngccn');
subLabel(884, 1800, 'n', 'UGCCN', null, CL, 'y-axis-title-nugccn');
const cu = rotText(1024, 1790, 70, '#262626');
cu.textContent = '[cm';
sup(cu, '-3', 48, 28);
const cu2 = mk('tspan', {dy:28}, cu); cu2.textContent = ']';


const wsT = rotText(944, 2072, 74, '#262626');
wsT.textContent = 'WS';


const wsU = rotText(1071, 2050, 70, '#262626');
wsU.textContent = '[m s';
sup(wsU, '-1', 48, 28);
const wsU2 = mk('tspan', {dy:28}, wsU); wsU2.textContent = ']';


const wdT = rotText(2924, 2072, 74, WD);
wdT.textContent = 'Wdir';


const wdU = rotText(3024, 2072, 74, WD);
wdU.textContent = '[deg]';



// ---------- legends ----------
function legendBox(x, y, w, h, name){
  const b = mk('rect', {x:x, y:y, width:w, height:h, fill:'#fff', stroke:'#262626', 'stroke-width':2.5});
  
  
}
function legLine(x1, x2, y, color, dash){
  const a = {x1:x1, y1:y, x2:x2, y2:y, stroke:color, 'stroke-width':8};
  if (dash) a['stroke-dasharray'] = dash;
  const l = mk('line', a);
  
  
}
function legCircle(x, y, color){
  const c = mk('ellipse', {cx:x, cy:y, rx:8, ry:11, fill:'none', stroke:color, 'stroke-width':2.5});
  
  
}
function legText(x, y, s){
  const t = txt(x, y + 23, s, 64, 'start', '#000');
  
  
}
legendBox(1570, 1115, 399, 344, 'legend-g');
legCircle(1640, 1167, BURK); legText(1714, 1167, 'Burkard');
legLine(1583, 1700, 1250, ICE); legText(1714, 1250, 'ICEMET');
legLine(1583, 1700, 1332, CL); legText(1714, 1332, 'CL61');
legLine(1583, 1700, 1416, POL); legText(1714, 1416, 'PollyXT');

legendBox(2727, 1674, 377, 261, 'legend-i');
legLine(2740, 2858, 1722, '#000'); legText(2870, 1722, 'in situ');
legLine(2740, 2858, 1805, '#000', '28 22'); legText(2870, 1805, 'CL61');
legCircle(2798, 1889, '#000'); legText(2870, 1889, 'PollyXT');

legendBox(3111, 1976, 335, 263, 'legend-j');
legLine(3124, 3242, 2027, '#000'); legText(3252, 2027, '26 m');
legLine(3124, 3242, 2110, '#000', '28 22'); legText(3252, 2110, '200 m');
legCircle(3185, 2193, '#000'); legText(3252, 2193, '400 m');

legendBox(3624, 1653, 538, 428, 'legend-main');
legCircle(3696, 1701, BURK); legText(3767, 1701, 'Burkard');
(function(){ const x = 3696, y = 1785;
  const s = mk('path', {d:'M' + (x-8) + ' ' + y + 'L' + (x+8) + ' ' + y + 'M' + x + ' ' + (y-10) + 'L' + x + ' ' + (y+10) + 'M' + (x-7) + ' ' + (y-7) + 'L' + (x+7) + ' ' + (y+7) + 'M' + (x-7) + ' ' + (y+7) + 'L' + (x+7) + ' ' + (y-7), stroke:BURK, 'stroke-width':2.5, fill:'none'});
  
  
})();
legText(3767, 1785, 'Burkard fixed');
legLine(3641, 3757, 1868, ICE); legText(3767, 1868, 'ICEMET');
legLine(3641, 3757, 1951, CL); legText(3767, 1951, 'CL61');
legLine(3641, 3757, 2035, POL); legText(3767, 2035, 'PollyXT');
</script>
</body></html>
